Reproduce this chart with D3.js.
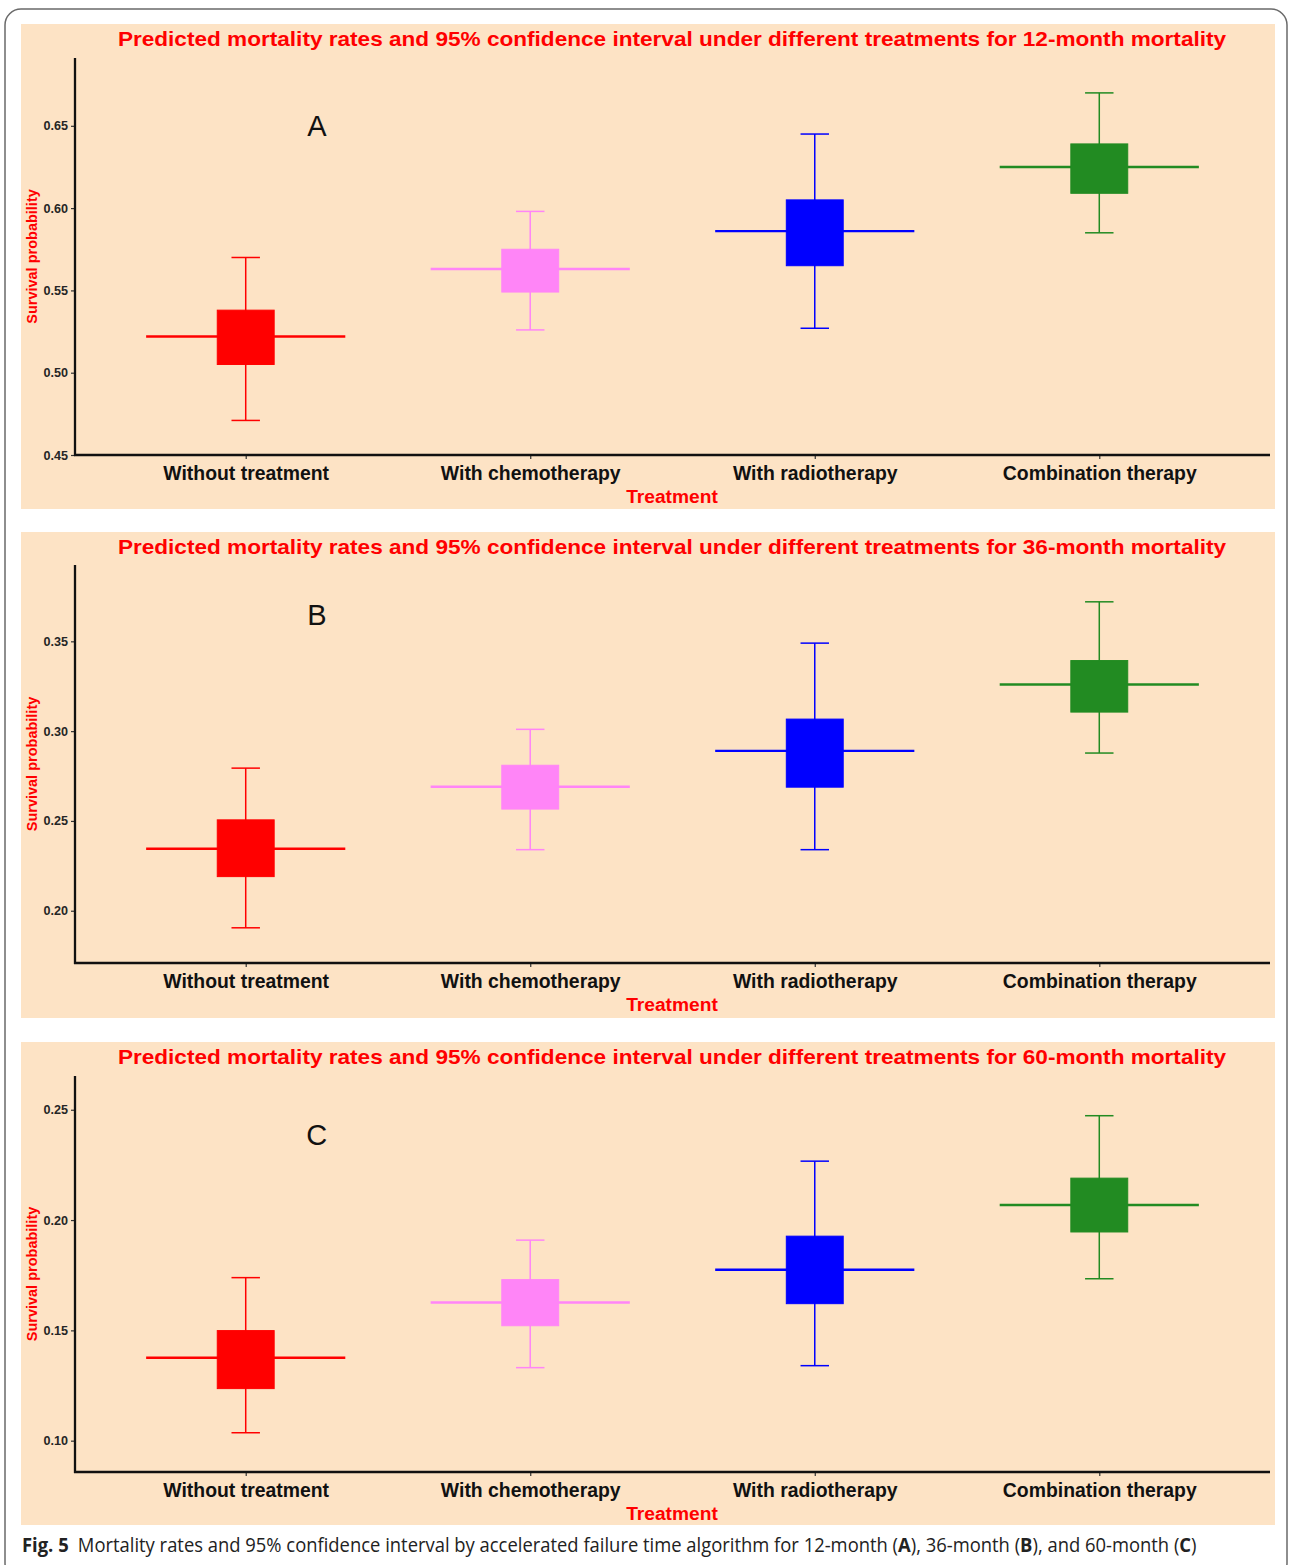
<!DOCTYPE html>
<html>
<head>
<meta charset="utf-8">
<script src="https://cdn.jsdelivr.net/npm/d3@7"></script>
<style>
  html, body { margin: 0; padding: 0; background: #fff; }
  svg { display: block; }
</style>
</head>
<body>
<script>
// Treatment groups and their colours
const categories = ["Without treatment", "With chemotherapy", "With radiotherapy", "Combination therapy"];
const groupColors = ["#ff0000", "#ff85f7", "#0000ff", "#228b22"];

// 12-month survival: point estimate, inner box limits, 95% CI limits
const est12   = [0.522, 0.563, 0.586, 0.625];
const boxLo12 = [0.505, 0.549, 0.565, 0.609];
const boxHi12 = [0.538, 0.575, 0.605, 0.639];
const ciLo12  = [0.471, 0.526, 0.527, 0.585];
const ciHi12  = [0.570, 0.598, 0.645, 0.670];

// 36-month survival
const est36   = [0.2345, 0.269, 0.289, 0.326];
const boxLo36 = [0.219, 0.2566, 0.2688, 0.3106];
const boxHi36 = [0.2506, 0.281, 0.3067, 0.3393];
const ciLo36  = [0.1905, 0.234, 0.234, 0.2878];
const ciHi36  = [0.2794, 0.301, 0.349, 0.372];

// 60-month survival
const est60   = [0.1376, 0.1626, 0.1775, 0.2068];
const boxLo60 = [0.1236, 0.1521, 0.1621, 0.1946];
const boxHi60 = [0.1499, 0.173, 0.1927, 0.219];
const ciLo60  = [0.1036, 0.1331, 0.134, 0.1734];
const ciHi60  = [0.1739, 0.1909, 0.2267, 0.2473];

// Axis tick labels
const ticks12 = ["0.45", "0.50", "0.55", "0.60", "0.65"];
const ticks36 = ["0.20", "0.25", "0.30", "0.35"];
const ticks60 = ["0.10", "0.15", "0.20", "0.25"];

// Titles and panel letters
const titles = [
  "Predicted mortality rates and 95% confidence interval under different treatments for 12-month mortality",
  "Predicted mortality rates and 95% confidence interval under different treatments for 36-month mortality",
  "Predicted mortality rates and 95% confidence interval under different treatments for 60-month mortality"
];
const letters = ["A", "B", "C"];
const letterY = [0.65, 0.365, 0.2387];
const yDomains = [[0.45, 0.6912], [0.1709, 0.3925], [0.0858, 0.2653]];

const panelsData = [
  { est: est12, boxLo: boxLo12, boxHi: boxHi12, ciLo: ciLo12, ciHi: ciHi12, ticks: ticks12 },
  { est: est36, boxLo: boxLo36, boxHi: boxHi36, ciLo: ciLo36, ciHi: ciHi36, ticks: ticks36 },
  { est: est60, boxLo: boxLo60, boxHi: boxHi60, ciLo: ciLo60, ciHi: ciHi60, ticks: ticks60 }
];

// Layout of the three stacked panels
const W = 1290, H = 1565;
const panelLayout = [
  { top: 24,   bottom: 509,  axisTop: 58,   axisBottom: 455 },
  { top: 532,  bottom: 1018, axisTop: 565,  axisBottom: 963 },
  { top: 1042, bottom: 1525, axisTop: 1076, axisBottom: 1472 }
];
const panelLeft = 21, panelRight = 1275;
const plotLeft = 75, plotRight = 1270;
const titleCenter = 672;
const bg = "#fde3c5";
const sans = "'Liberation Sans', Arial, Helvetica, sans-serif";

const svg = d3.select("body").append("svg")
  .attr("width", W).attr("height", H)
  .attr("viewBox", `0 0 ${W} ${H}`);

svg.append("rect").attr("width", W).attr("height", H).attr("fill", "#fff");

// Rounded frame around the figure
svg.append("rect")
  .attr("x", 5).attr("y", 9)
  .attr("width", 1282).attr("height", 1570)
  .attr("rx", 16).attr("ry", 16)
  .attr("fill", "none").attr("stroke", "#6a6a6a").attr("stroke-width", 1.5);

const x = d3.scalePoint().domain(categories).range([plotLeft, plotRight]).padding(0.6);
const step = x.step();

// Shrink or stretch a text element horizontally to a target width
function fitWidth(sel, target) {
  const node = sel.node();
  const w = node.getComputedTextLength();
  const anchorX = +sel.attr("x") || 0;
  const k = target / w;
  sel.attr("transform", `translate(${anchorX},0) scale(${k},1) translate(${-anchorX},0)`);
}

panelsData.forEach((pd, i) => {
  const L = panelLayout[i];
  const g = svg.append("g");

  g.append("rect")
    .attr("x", panelLeft).attr("y", L.top)
    .attr("width", panelRight - panelLeft).attr("height", L.bottom - L.top)
    .attr("fill", bg);

  const y = d3.scaleLinear().domain(yDomains[i]).range([L.axisBottom, L.axisTop]);

  // Title
  const t = g.append("text")
    .attr("x", titleCenter)
    .attr("y", L.top + 22)
    .attr("text-anchor", "middle")
    .attr("font-family", sans).attr("font-weight", "bold")
    .attr("font-size", 20.2).attr("fill", "#ff0000")
    .text(titles[i]);
  fitWidth(t, 1108);

  // Y axis
  const yAxis = d3.axisLeft(y)
    .tickValues(pd.ticks.map(Number))
    .tickFormat((d, j) => pd.ticks[j])
    .tickSizeInner(4).tickSizeOuter(0).tickPadding(3);
  const ya = g.append("g").attr("transform", `translate(${plotLeft},0)`).call(yAxis);
  ya.select(".domain").remove();
  ya.selectAll(".tick line").attr("stroke", "#333").attr("stroke-width", 1.2);
  ya.selectAll(".tick text")
    .attr("font-family", sans).attr("font-weight", "bold")
    .attr("font-size", 12.6).attr("fill", "#262626");
  g.append("line")
    .attr("x1", plotLeft).attr("x2", plotLeft)
    .attr("y1", L.axisTop).attr("y2", L.axisBottom + 1)
    .attr("stroke", "#111").attr("stroke-width", 2.3);

  // X axis
  const xAxis = d3.axisBottom(x).tickSizeInner(4).tickSizeOuter(0).tickPadding(7);
  const xa = g.append("g").attr("transform", `translate(0,${L.axisBottom})`).call(xAxis);
  xa.select(".domain").remove();
  xa.selectAll(".tick line").attr("stroke", "#333").attr("stroke-width", 1.2);
  xa.selectAll(".tick text")
    .attr("font-family", sans).attr("font-weight", "bold")
    .attr("font-size", 19.4).attr("fill", "#111");
  g.append("line")
    .attr("x1", plotLeft - 1).attr("x2", plotRight)
    .attr("y1", L.axisBottom).attr("y2", L.axisBottom)
    .attr("stroke", "#111").attr("stroke-width", 2.3);

  // Axis titles
  g.append("text")
    .attr("x", titleCenter)
    .attr("y", L.axisBottom + 48)
    .attr("text-anchor", "middle")
    .attr("font-family", sans).attr("font-weight", "bold")
    .attr("font-size", 19.2).attr("fill", "#ff0000")
    .text("Treatment");
  const yMid = (L.axisTop + L.axisBottom) / 2;
  g.append("text")
    .attr("transform", `translate(37,${yMid}) rotate(-90)`)
    .attr("text-anchor", "middle")
    .attr("font-family", sans).attr("font-weight", "bold")
    .attr("font-size", 14.5).attr("fill", "#ff0000")
    .text("Survival probability");

  // Panel letter
  g.append("text")
    .attr("x", x(categories[0]) + 0.25 * step)
    .attr("y", y(letterY[i]))
    .attr("dy", "0.36em")
    .attr("text-anchor", "middle")
    .attr("font-family", sans)
    .attr("font-size", 29).attr("fill", "#111")
    .text(letters[i]);

  // Marks for each treatment
  const rows = categories.map((c, j) => ({
    cat: c, color: groupColors[j],
    est: pd.est[j], boxLo: pd.boxLo[j], boxHi: pd.boxHi[j],
    ciLo: pd.ciLo[j], ciHi: pd.ciHi[j]
  }));

  const mk = g.append("g").selectAll("g").data(rows).join("g");

  // horizontal estimate line
  mk.append("line")
    .attr("x1", d => x(d.cat) - 0.35 * step)
    .attr("x2", d => x(d.cat) + 0.35 * step)
    .attr("y1", d => y(d.est)).attr("y2", d => y(d.est))
    .attr("stroke", d => d.color).attr("stroke-width", 2.4);

  // whisker stem
  mk.append("line")
    .attr("x1", d => x(d.cat)).attr("x2", d => x(d.cat))
    .attr("y1", d => y(d.ciHi)).attr("y2", d => y(d.ciLo))
    .attr("stroke", d => d.color).attr("stroke-width", 1.5);

  // whisker caps
  ["ciHi", "ciLo"].forEach(k => {
    mk.append("line")
      .attr("x1", d => x(d.cat) - 0.05 * step)
      .attr("x2", d => x(d.cat) + 0.05 * step)
      .attr("y1", d => y(d[k])).attr("y2", d => y(d[k]))
      .attr("stroke", d => d.color).attr("stroke-width", 1.5);
  });

  // central box
  mk.append("rect")
    .attr("x", d => x(d.cat) - 0.1 * step)
    .attr("width", 0.2 * step)
    .attr("y", d => y(d.boxHi))
    .attr("height", d => y(d.boxLo) - y(d.boxHi))
    .attr("fill", d => d.color)
    .attr("stroke", d => d.color).attr("stroke-width", 1);
});

// Figure caption
const cap = svg.append("text")
  .attr("x", 22).attr("y", 1552)
  .attr("font-family", "'Open Sans', 'Noto Sans', sans-serif")
  .attr("font-size", 19.5).attr("fill", "#222");
cap.append("tspan").attr("font-weight", "bold").text("Fig. 5");
cap.append("tspan").text("\u2002Mortality rates and 95% confidence interval by accelerated failure time algorithm for 12-month (");
cap.append("tspan").attr("font-weight", "bold").text("A");
cap.append("tspan").text("), 36-month (");
cap.append("tspan").attr("font-weight", "bold").text("B");
cap.append("tspan").text("), and 60-month (");
cap.append("tspan").attr("font-weight", "bold").text("C");
cap.append("tspan").text(")");
fitWidth(cap, 1175);
</script>
</body>
</html>
